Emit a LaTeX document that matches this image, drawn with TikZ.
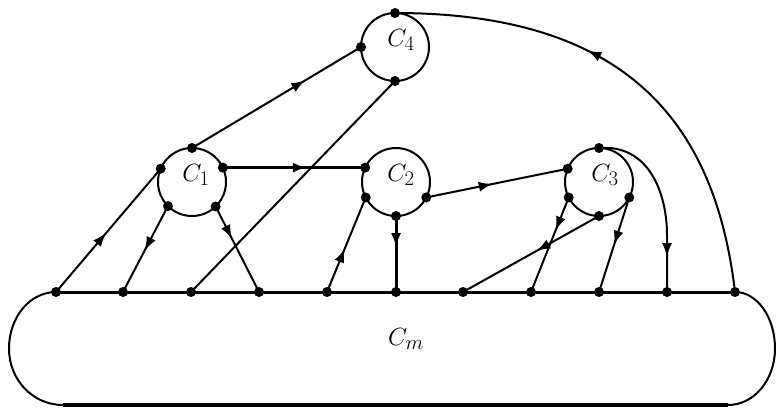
\documentclass[tikz,border=0pt]{standalone}
\usetikzlibrary{arrows.meta,decorations.markings}
\begin{document}
\begin{tikzpicture}[x=1pt,y=-1pt,
  cyc/.style={circle,draw,line width=2pt,minimum size=68pt,inner sep=0pt,outer sep=0pt},
  dotn/.style={circle,fill,inner sep=0pt,minimum size=10pt},
  lab/.style={inner sep=0pt,font=\fontsize{32}{38}\selectfont},
  conn/.style={line width=2pt},
  heavy/.style={line width=3.4pt},
  arr/.style={postaction={decorate,decoration={markings,mark=at position #1 with {\arrow{Latex[length=14pt,width=10pt]}}}}}]
\useasboundingbox (0,0) rectangle (776,408);
% cycles
\node[cyc] (C1) at (192,182) {};
\node[cyc] (C2) at (396,182) {};
\node[cyc] (C3) at (599,182) {};
\node[cyc] (C4) at (395,47) {};
\node[lab] (L1) at (196,175) {$C_1$};
\node[lab] (L2) at (401,175) {$C_2$};
\node[lab] (L3) at (605,175) {$C_3$};
\node[lab] (L4) at (401,40) {$C_4$};
\node[lab] (Lm) at (406,339) {$C_m$};
% dots on cycles
\node[dotn] (c1t) at (C1.90) {};
\node[dotn] (c1l) at (C1.157) {};
\node[dotn] (c1r) at (C1.25) {};
\node[dotn] (c1bl) at (C1.-135) {};
\node[dotn] (c1br) at (C1.-46) {};
\node[dotn] (c2l) at (C2.155) {};
\node[dotn] (c2bl) at (C2.-153) {};
\node[dotn] (c2r) at (C2.-27) {};
\node[dotn] (c2b) at (C2.-90) {};
\node[dotn] (c3t) at (C3.90) {};
\node[dotn] (c3l) at (C3.157) {};
\node[dotn] (c3bl) at (C3.-153) {};
\node[dotn] (c3r) at (C3.-27) {};
\node[dotn] (c3b) at (C3.-90) {};
\node[dotn] (c4t) at (C4.90) {};
\node[dotn] (c4l) at (C4.180) {};
\node[dotn] (c4b) at (C4.-90) {};
% dots on Cm
\foreach \x [count=\i] in {56,123,191,259,327,396,463,531,599,667,735}
  \node[dotn] (m\i) at (\x,292) {};
% Cm outline
\coordinate (sl) at (9,348.5);
\coordinate (sbl) at (63,405);
\coordinate (sr) at (775,348.5);
\coordinate (sbr) at (728,405);
\draw[line width=3pt] (m1.center) -- (m11.center);
\draw[line width=2pt] (m1.center) .. controls (30,292) and (9,317) .. (sl)
  .. controls (9,380) and (33,405) .. (sbl);
\draw[line width=2pt] (m11.center) .. controls (757,292) and (775,317) .. (sr)
  .. controls (775,380) and (754,405) .. (sbr);
\draw[line width=4pt] (sbl) -- (sbr);
% connectors
\draw[conn,arr=0.48] (m1.center) -- (c1l.center);
\draw[conn,arr=0.52] (c1bl.center) -- (m2.center);
\draw[conn] (m3.center) -- (c4b.center);
\draw[conn,arr=0.38] (c1br.center) -- (m4.center);
\draw[conn,arr=0.67] (c1t.center) -- (c4l.center);
\draw[heavy,arr=0.59] (c1r.center) -- (c2l.center);
\draw[conn,arr=0.46] (m5.center) -- (c2bl.center);
\draw[heavy,line width=3pt,arr=0.41] (c2b.center) -- (m6.center);
\draw[conn,arr=0.47] (c2r.center) -- (c3l.center);
\draw[conn,arr=0.46] (c3b.center) -- (m7.center);
\draw[conn,arr=0.35] (c3bl.center) -- (m8.center);
\draw[conn,arr=0.5] (c3r.center) -- (m9.center);
\draw[conn,arr=-35pt] (c3t.center) .. controls (650,144) and (667,195) .. (667,235) -- (m10.center);
\draw[conn,arr=0.6] (m11.center) .. controls (715,122) and (626,13) .. (c4t.center);
\end{tikzpicture}
\end{document}
